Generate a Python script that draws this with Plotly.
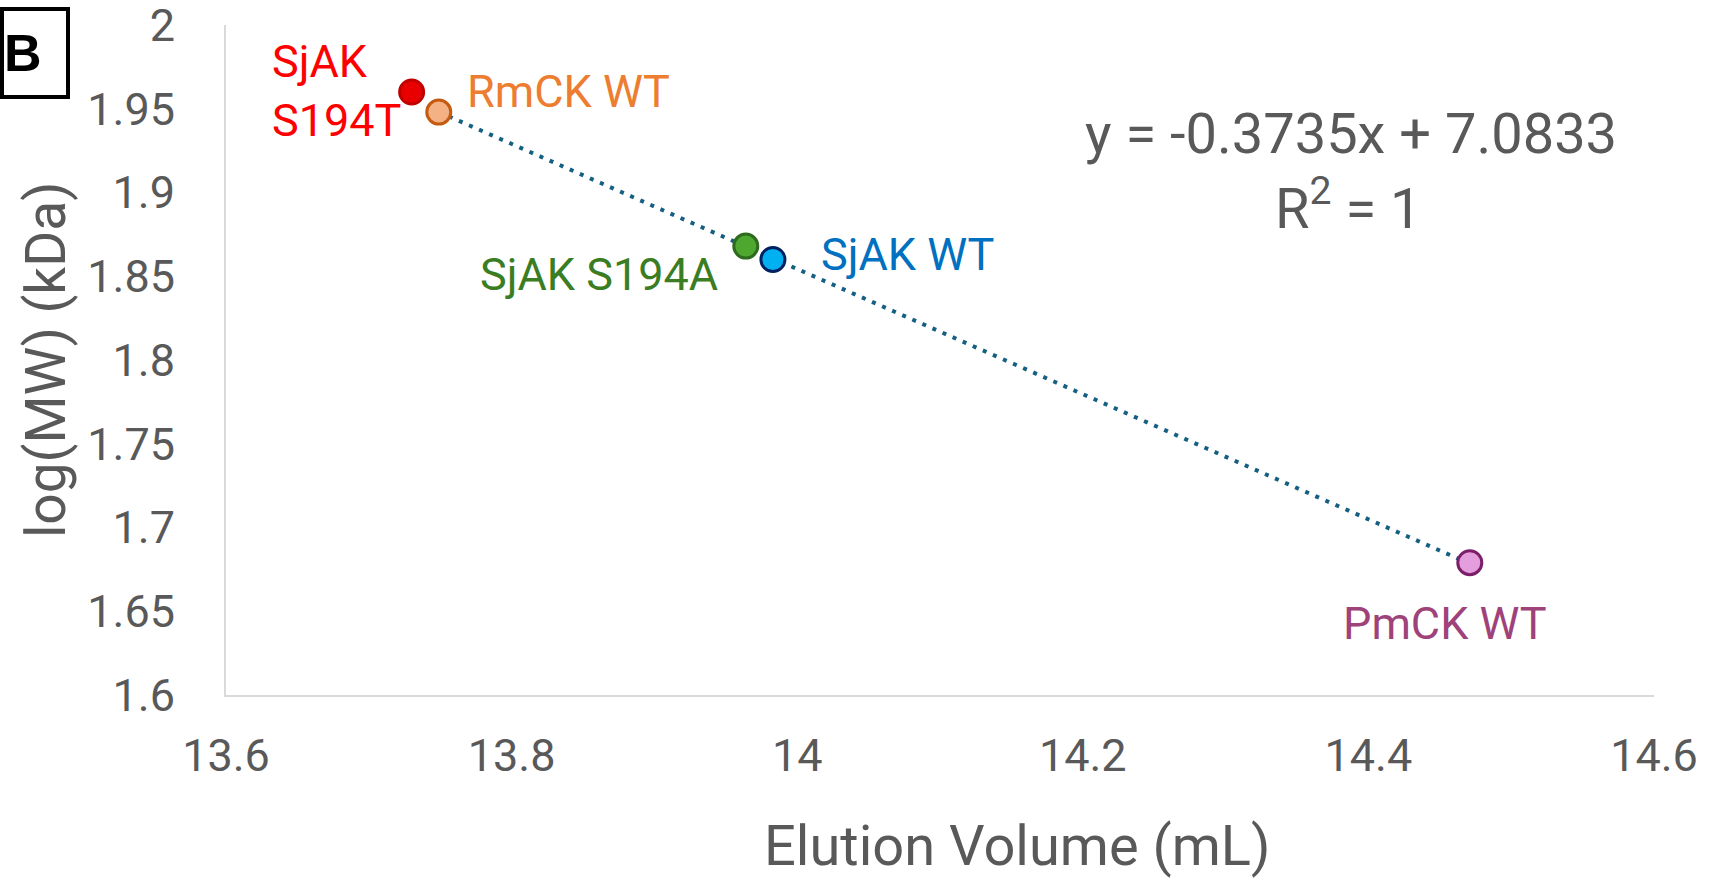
import plotly.graph_objects as go

# ---- data ----
names = ["SjAK S194T", "RmCK WT", "SjAK S194A", "SjAK WT", "PmCK WT"]
elution_ml = [13.730, 13.749, 13.964, 13.983, 14.471]
log_mw = [1.960, 1.948, 1.868, 1.860, 1.679]
fill_colors = ["#E80000", "#F4B183", "#4EA72E", "#00B0F0", "#E59EDD"]
edge_colors = ["#C00000", "#C55A11", "#2F6B1E", "#002060", "#7B1F6A"]
label_colors = ["#FF0000", "#ED7D31", "#3A7D22", "#0070C0", "#A0427A"]
label_texts = ["SjAK<br>S194T", "RmCK WT", "SjAK S194A", "SjAK WT", "PmCK WT"]
label_x = [13.6308, 13.7674, 13.946, 14.0153, 14.4536]
label_y = [1.9606, 1.9606, 1.8513, 1.8627, 1.6424]
label_anchor = ["left", "left", "right", "left", "center"]

slope = -0.3735
intercept = 7.0833
trend_x = [13.749, 14.471]  # standards used for the fit
equation_text = "y = -0.3735x + 7.0833"
r2_text = "R<sup>2</sup> = 1"

x_title = "Elution Volume (mL)"
y_title = "log(MW) (kDa)"
x_ticks = [13.6, 13.8, 14.0, 14.2, 14.4, 14.6]
x_ticklabels = ["13.6", "13.8", "14", "14.2", "14.4", "14.6"]
y_ticks = [1.6, 1.65, 1.7, 1.75, 1.8, 1.85, 1.9, 1.95, 2.0]
y_ticklabels = ["1.6", "1.65", "1.7", "1.75", "1.8", "1.85", "1.9", "1.95", "2"]

FONT = "Roboto, Liberation Sans, Arial, sans-serif"
GREY = "#595959"

W, H = 1716, 879
L, R, T, B = 226, 62, 25, 184
PW, PH = W - L - R, H - T - B


def px_to_paper_x(px):
    return (px - L) / PW


def px_to_paper_y(py):
    return (H - B - py) / PH


fig = go.Figure()

# trendline
fig.add_trace(go.Scatter(
    x=trend_x, y=[slope * v + intercept for v in trend_x],
    mode="lines", line=dict(color="#156082", width=4, dash="4px,7px"),
    showlegend=False, hoverinfo="skip"))

# points
for i in range(len(names)):
    fig.add_trace(go.Scatter(
        x=[elution_ml[i]], y=[log_mw[i]], mode="markers", name=names[i],
        marker=dict(size=24, color=fill_colors[i],
                    line=dict(color=edge_colors[i], width=3)),
        showlegend=False))

ann = []
for i in range(len(names)):
    ann.append(dict(x=label_x[i], y=label_y[i], xref="x", yref="y",
                    text=label_texts[i], showarrow=False,
                    xanchor=label_anchor[i], yanchor="middle",
                    align="left",
                    font=dict(family=FONT, size=45, color=label_colors[i])))
ann.append(dict(x=14.3875, y=1.9352, xref="x", yref="y", text=equation_text,
                showarrow=False, xanchor="center", yanchor="middle",
                font=dict(family=FONT, size=56, color=GREY)))
ann.append(dict(x=14.386, y=1.8927, xref="x", yref="y", text=r2_text,
                showarrow=False, xanchor="center", yanchor="middle",
                font=dict(family=FONT, size=56, color=GREY)))
# axis titles (placed as in the original)
ann.append(dict(x=px_to_paper_x(1017), y=px_to_paper_y(846), xref="paper", yref="paper",
                text=x_title, showarrow=False, xanchor="center", yanchor="middle",
                font=dict(family=FONT, size=56, color=GREY)))
ann.append(dict(x=px_to_paper_x(46), y=px_to_paper_y(360), xref="paper", yref="paper",
                text=y_title, showarrow=False, xanchor="center", yanchor="middle",
                textangle=-90,
                font=dict(family=FONT, size=55, color=GREY)))
# panel letter
ann.append(dict(x=px_to_paper_x(23), y=px_to_paper_y(53), xref="paper", yref="paper",
                text="<b>B</b>", showarrow=False, xanchor="center", yanchor="middle",
                font=dict(family="Liberation Sans, Arial, sans-serif", size=52, color="black")))

fig.update_layout(
    width=W, height=H,
    margin=dict(l=L, r=R, t=T, b=B, autoexpand=False),
    paper_bgcolor="white", plot_bgcolor="white",
    annotations=ann,
    shapes=[dict(type="rect", xref="paper", yref="paper",
                 x0=px_to_paper_x(2), x1=px_to_paper_x(68),
                 y0=px_to_paper_y(97), y1=px_to_paper_y(9),
                 line=dict(color="black", width=4))],
    xaxis=dict(range=[13.6, 14.6], tickvals=x_ticks, ticktext=x_ticklabels,
               showgrid=False, zeroline=False, showline=True,
               linecolor="#D9D9D9", linewidth=2, ticks="",
               tickfont=dict(family=FONT, size=45, color=GREY),
               ticklabelstandoff=20, ticklabeloverflow="allow"),
    yaxis=dict(range=[1.6, 2.0], tickvals=y_ticks, ticktext=y_ticklabels,
               showgrid=False, zeroline=False, showline=True,
               linecolor="#D9D9D9", linewidth=2, ticks="",
               tickfont=dict(family=FONT, size=45, color=GREY),
               ticklabelstandoff=40, ticklabeloverflow="allow"),
)

fig.write_html("out.html", config={"displayModeBar": False},
               post_script="document.body.style.margin='0';")
